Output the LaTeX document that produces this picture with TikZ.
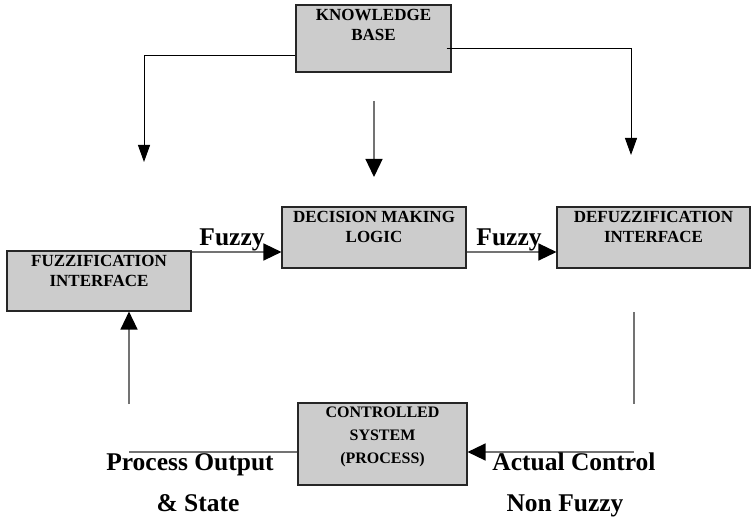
\documentclass[tikz,border=0pt]{standalone}
\usepackage{fontspec}
\setmainfont{Liberation Serif}
\usetikzlibrary{arrows.meta}

\definecolor{boxgray}{RGB}{204,204,204}

\begin{document}
\begin{tikzpicture}[x=1pt,y=-1pt]
            \tikzset{
                block/.style={draw=black!85, fill=boxgray, line width=1.1pt, inner sep=0pt},
                blocktext/.style={font=\bfseries\fontsize{17}{20}\selectfont, align=center, anchor=north, inner sep=5pt},
                signal/.style={font=\bfseries\fontsize{25.5}{28}\selectfont, anchor=base},
                kbedge/.style={draw=black, line width=1pt, -{Triangle[length=17pt,width=12pt]}},
                edge/.style={draw=black!55, line width=1.3pt, -{Triangle[length=18pt,width=17pt,color=black]}},
                wire/.style={draw=black!55, line width=1.3pt}
            }
            \useasboundingbox (0,0) rectangle (751,518);
            % blocks
            \node[block, minimum width=155pt, minimum height=67pt] (kb) at (373.5,38.5) {};
            \node[block, minimum width=184pt, minimum height=60pt] (fuz) at (99,281) {};
            \node[block, minimum width=184pt, minimum height=61pt] (dml) at (374,237.5) {};
            \node[block, minimum width=193pt, minimum height=61pt] (defuz) at (653.5,237.5) {};
            \node[block, minimum width=169pt, minimum height=82pt] (cs) at (382.5,444) {};

            % block texts
            \node[blocktext] (kbtext) at (kb.north) {KNOWLEDGE\\BASE};
            \node[blocktext] (fuztext) at (fuz.north) {FUZZIFICATION\\INTERFACE};
            \node[blocktext] (dmltext) at (dml.north) {DECISION MAKING\\LOGIC};
            \node[blocktext] (defuztext) at (defuz.north) {DEFUZZIFICATION\\INTERFACE};
            \node[blocktext, font=\bfseries\fontsize{16}{23}\selectfont, inner sep=4pt] (cstext) at (cs.north) {CONTROLLED\\SYSTEM\\(PROCESS)};

            % free ends
            \coordinate (fuzin) at (144,162);
            \coordinate (dmlin) at (374,177);
            \coordinate (dmltop) at (374,101);
            \coordinate (defuzin) at (631,155);
            \coordinate (fuzfeed) at (129,404);
            \coordinate (leftcorner) at (129,452);
            \coordinate (defuzout) at (634,312);
            \coordinate (defuzdown) at (634,404);
            \coordinate (rightcorner) at (634,452);

            % edges
            \draw[kbedge] ([yshift=-17pt]kb.west) -| (fuzin);
            \draw[kbedge] ([shift={(-5pt,-10pt)}]kb.east) -| (defuzin);
            \draw[edge] (dmltop) -- (dmlin);
            \draw[edge] (fuz.east |- 0,252) -- (dml.west |- 0,252);
            \draw[edge] (dml.east |- 0,252) -- (defuz.west |- 0,252);
            \draw[edge] (fuzfeed) -- (fuzfeed |- fuz.south);
            \draw[wire] (defuzout) -- (defuzdown);
            \draw[edge] (rightcorner) -- (cs.east |- rightcorner);
            \draw[wire] (cs.west |- leftcorner) -- (leftcorner);

            % signal labels
            \node[signal] (fuzzy1) at (232,246) {Fuzzy};
            \node[signal] (fuzzy2) at (509,246) {Fuzzy};
            \node[signal] (procout) at (190,470) {Process Output};
            \node[signal] (state) at (198,511) {\& State};
            \node[signal] (actual) at (574,470) {Actual Control};
            \node[signal] (nonfuzzy) at (565,511) {Non Fuzzy};
\end{tikzpicture}
\end{document}
